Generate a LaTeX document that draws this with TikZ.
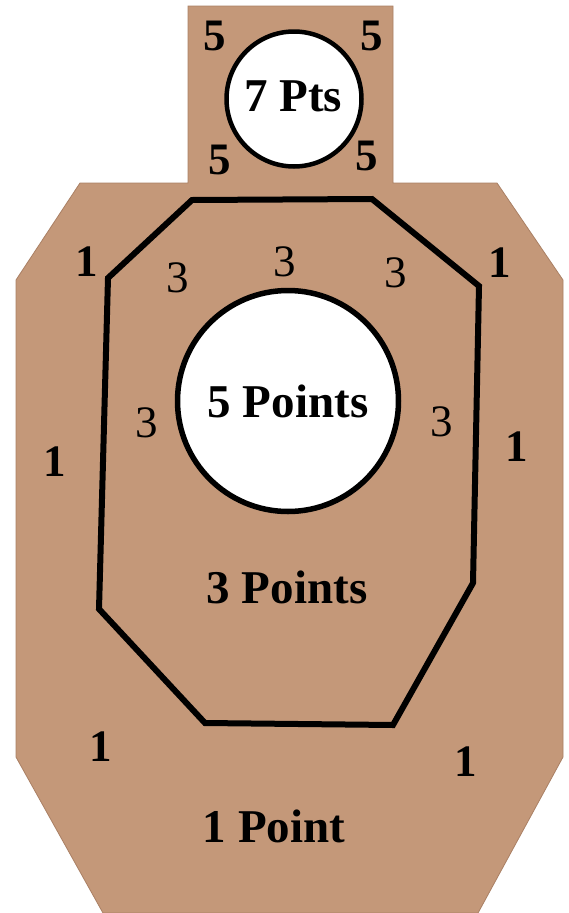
\documentclass[tikz,border=0pt]{standalone}
\usepackage{fontspec}
\setmainfont{Liberation Serif}
\definecolor{card}{RGB}{196,152,121}
\definecolor{cardedge}{RGB}{170,128,100}
\begin{document}
\begin{tikzpicture}[x=1pt,y=-1pt,
  bigtxt/.style={font=\fontsize{47}{50}\selectfont\bfseries, text=black, inner sep=0pt},
  onelbl/.style={font=\fontsize{45}{47}\selectfont\bfseries, text=black, inner sep=0pt},
  threelbl/.style={font=\fontsize{45}{47}\selectfont, text=black, inner sep=0pt},
  fivelbl/.style={font=\fontsize{45}{47}\selectfont\bfseries, text=black, inner sep=0pt},
  ring/.style={circle, draw=black, fill=white, inner sep=0pt},
  zone/.style={draw=black, line width=6pt, line join=miter}]
\useasboundingbox (0,0) rectangle (568,913);
\fill[white] (0,0) rectangle (568,913);
% silhouette
\filldraw[fill=card, draw=cardedge, line width=0.8pt]
  (188,6) -- (393,6) -- (393,183) -- (497,183) -- (563,280) -- (563,757)
  -- (478,913) -- (103,913) -- (16,757) -- (16,280) -- (80,183) -- (188,183) -- cycle;
% 3-point zone
\draw[zone] (192,200) -- (372,199) -- (479,286) -- (473,583) -- (393,725)
  -- (205,723) -- (99,609) -- (108,278) -- cycle;
% circles
\node[ring, line width=4.5pt, minimum size=135pt] (head) at (294,99) {};
\node[bigtxt] (headtxt) at (293,96) {7 Pts};
\node[ring, line width=5.5pt, minimum size=221pt, bigtxt] (chest) at (288,401) {5 Points};
% zone texts
\node[bigtxt] (three) at (287,587) {3 Points};
\node[bigtxt] (one) at (274,826) {1 Point};
% 5 labels
\node[fivelbl] (f1) at (215,36) {5};
\node[fivelbl] (f2) at (372,36) {5};
\node[fivelbl] (f3) at (220,160) {5};
\node[fivelbl] (f4) at (367,156) {5};
% 3 labels
\node[threelbl] (t1) at (178,278) {3};
\node[threelbl] (t2) at (285,262) {3};
\node[threelbl] (t3) at (396,273) {3};
\node[threelbl] (t4) at (147,423) {3};
\node[threelbl] (t5) at (442,422) {3};
% 1 labels
\node[onelbl] (o1) at (87,262) {1};
\node[onelbl] (o2) at (500,263) {1};
\node[onelbl] (o3) at (55,462) {1};
\node[onelbl] (o4) at (517,447) {1};
\node[onelbl] (o5) at (101,747) {1};
\node[onelbl] (o6) at (466,762) {1};
\end{tikzpicture}
\end{document}
